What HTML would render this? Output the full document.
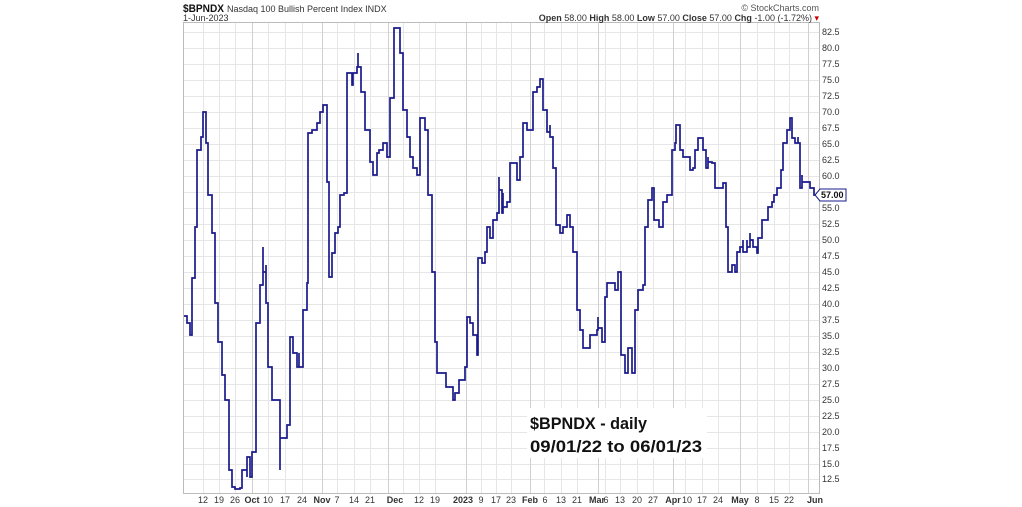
<!DOCTYPE html>
<html><head><meta charset="utf-8"><style>
html,body{margin:0;padding:0;background:#fff;}
svg{display:block;font-family:"Liberation Sans",Arial,sans-serif;}
</style></head><body>
<svg width="1022" height="507" viewBox="0 0 1022 507" xmlns="http://www.w3.org/2000/svg">
<rect width="1022" height="507" fill="#fff"/>
<g stroke="#e6e6e6" stroke-width="1">
<line x1="183" x2="819" y1="32.5" y2="32.5"/><line x1="183" x2="819" y1="48.5" y2="48.5"/><line x1="183" x2="819" y1="64.5" y2="64.5"/><line x1="183" x2="819" y1="80.5" y2="80.5"/><line x1="183" x2="819" y1="96.5" y2="96.5"/><line x1="183" x2="819" y1="112.5" y2="112.5"/><line x1="183" x2="819" y1="128.5" y2="128.5"/><line x1="183" x2="819" y1="144.5" y2="144.5"/><line x1="183" x2="819" y1="160.5" y2="160.5"/><line x1="183" x2="819" y1="176.5" y2="176.5"/><line x1="183" x2="819" y1="192.5" y2="192.5"/><line x1="183" x2="819" y1="208.5" y2="208.5"/><line x1="183" x2="819" y1="224.5" y2="224.5"/><line x1="183" x2="819" y1="240.5" y2="240.5"/><line x1="183" x2="819" y1="256.5" y2="256.5"/><line x1="183" x2="819" y1="272.5" y2="272.5"/><line x1="183" x2="819" y1="288.5" y2="288.5"/><line x1="183" x2="819" y1="304.5" y2="304.5"/><line x1="183" x2="819" y1="320.5" y2="320.5"/><line x1="183" x2="819" y1="336.5" y2="336.5"/><line x1="183" x2="819" y1="352.5" y2="352.5"/><line x1="183" x2="819" y1="368.5" y2="368.5"/><line x1="183" x2="819" y1="384.5" y2="384.5"/><line x1="183" x2="819" y1="400.5" y2="400.5"/><line x1="183" x2="819" y1="416.5" y2="416.5"/><line x1="183" x2="819" y1="432.5" y2="432.5"/><line x1="183" x2="819" y1="448.5" y2="448.5"/><line x1="183" x2="819" y1="464.5" y2="464.5"/><line x1="183" x2="819" y1="479.5" y2="479.5"/>
<line y1="23" y2="493" x1="203.5" x2="203.5"/><line y1="23" y2="493" x1="219.5" x2="219.5"/><line y1="23" y2="493" x1="235.5" x2="235.5"/><line y1="23" y2="493" x1="268.5" x2="268.5"/><line y1="23" y2="493" x1="285.5" x2="285.5"/><line y1="23" y2="493" x1="302.5" x2="302.5"/><line y1="23" y2="493" x1="337.5" x2="337.5"/><line y1="23" y2="493" x1="354.5" x2="354.5"/><line y1="23" y2="493" x1="370.5" x2="370.5"/><line y1="23" y2="493" x1="403.5" x2="403.5"/><line y1="23" y2="493" x1="419.5" x2="419.5"/><line y1="23" y2="493" x1="435.5" x2="435.5"/><line y1="23" y2="493" x1="481.5" x2="481.5"/><line y1="23" y2="493" x1="496.5" x2="496.5"/><line y1="23" y2="493" x1="511.5" x2="511.5"/><line y1="23" y2="493" x1="544.5" x2="544.5"/><line y1="23" y2="493" x1="561.5" x2="561.5"/><line y1="23" y2="493" x1="577.5" x2="577.5"/><line y1="23" y2="493" x1="605.5" x2="605.5"/><line y1="23" y2="493" x1="620.5" x2="620.5"/><line y1="23" y2="493" x1="637.5" x2="637.5"/><line y1="23" y2="493" x1="653.5" x2="653.5"/><line y1="23" y2="493" x1="685.5" x2="685.5"/><line y1="23" y2="493" x1="702.5" x2="702.5"/><line y1="23" y2="493" x1="718.5" x2="718.5"/><line y1="23" y2="493" x1="757.5" x2="757.5"/><line y1="23" y2="493" x1="774.5" x2="774.5"/><line y1="23" y2="493" x1="789.5" x2="789.5"/>
</g>
<g stroke="#d0d0d0" stroke-width="1">
<line y1="23" y2="493" x1="252.5" x2="252.5"/><line y1="23" y2="493" x1="322.5" x2="322.5"/><line y1="23" y2="493" x1="388.5" x2="388.5"/><line y1="23" y2="493" x1="466.5" x2="466.5"/><line y1="23" y2="493" x1="530.5" x2="530.5"/><line y1="23" y2="493" x1="598.5" x2="598.5"/><line y1="23" y2="493" x1="673.5" x2="673.5"/><line y1="23" y2="493" x1="740.5" x2="740.5"/><line y1="23" y2="493" x1="808.5" x2="808.5"/>
</g>
<rect x="183.5" y="22.5" width="636" height="471" fill="none" stroke="#bbb"/>
<path fill="none" stroke="#1a1a8c" stroke-width="1.7" d="M184 316 H187 V318 V323 H190 V335 H192 V278 H195 V227 H197 V182 V150 H201 V137 H203 V112 H206 V143 H208 V150 V195 H212 V202 V233 H215 V253 V303 H218 V342 H222 V375 H225 V400 H229 V425 V470 H232 V477 V487 H235 V489 H240 V488 H242 V482 V470 H245 H247 V477 V457 H250 V477 H252 V452 H256 V380 V323 H260 V285 H263 V247 V272 H266 V265 V303 H268 V310 V367 H272 V393 V400 H277 H280 V470 V438 H283 H287 V425 H290 V348 V337 H293 V353 H297 V367 H299 V353 V367 H303 V328 V310 H307 V292 V283 H308 V175 V133 H312 V130 H317 V123 H320 V112 H323 V105 H327 V117 V182 H329 V240 V277 H332 V253 H335 V233 H338 V227 H340 V195 H344 V193 H347 V111 V73 H352 V85 H353 V73 H357 V67 H358 V53 V67 H361 V92 H365 V125 V130 H370 V137 V162 H373 V168 V175 H377 V163 V153 H379 V150 H383 V143 H387 V157 H390 V98 H394 V78 V28 H400 V53 H403 V60 V110 H407 V125 V137 H410 V157 H413 V168 H417 V175 H420 V118 H425 V125 V130 H428 V150 V195 H432 V215 V272 H435 V342 H437 V368 V373 H442 H446 V375 V387 H450 H453 V392 V400 H455 V393 H457 H459 V380 H465 V367 H467 V337 V317 H470 V323 H473 V335 H477 V355 H478 V297 V258 H482 V263 H485 V258 V252 H487 V227 H490 V238 H493 V220 H497 V213 H499 V177 V190 H502 V195 V213 H503 V193 V207 H507 V202 H510 V163 H515 H517 V180 H520 V167 V157 H523 V123 H527 V130 H533 V92 H537 V87 H540 V79 H543 V92 V110 H547 V125 V132 H550 V125 V137 H553 V168 H556 V188 V225 H560 V227 V233 H563 V227 H567 V220 V215 H570 V227 H573 V252 H577 V272 V310 H580 V317 V330 H583 V348 H587 H590 V335 H593 H597 V330 H598 V317 V328 H602 V335 V342 H605 V330 V297 H607 V283 H615 V290 H618 V272 H621 V278 V355 H625 V362 V373 H628 V362 V348 H632 V362 V373 H635 V362 V310 H638 V303 V290 H643 V285 H645 V272 V227 H648 V220 V200 H652 V188 H654 V193 V220 H659 V227 H663 V213 V202 H667 V195 H670 H672 V188 V150 H675 V143 H676 V125 H680 V150 H683 V157 H687 H690 V170 H693 V168 H695 V157 V150 H698 V138 H703 V150 H706 V157 V168 H708 V157 V162 H712 V163 H715 V188 H718 H723 V183 H726 V202 V227 H728 V247 V272 H732 V265 H735 V272 H737 V252 H740 V247 H743 V240 V252 H747 V240 V247 H750 V233 V240 H753 V247 H757 V253 H758 V238 H762 V220 H765 H768 V213 V207 H772 V202 H774 V195 H777 V188 H781 V170 H783 V163 V143 H787 V137 V130 H790 V118 H792 V130 V138 H795 V143 H798 V137 V143 H800 V150 V188 H802 V175 V182 H805 H810 V188 H814 V195 H818"/>
<rect x="527" y="408" width="180" height="50" fill="#fff"/>
<text x="530" y="429" font-size="17" font-weight="bold" fill="#111" textLength="117" lengthAdjust="spacingAndGlyphs">$BPNDX - daily</text>
<text x="530" y="452" font-size="17" font-weight="bold" fill="#111" textLength="172" lengthAdjust="spacingAndGlyphs">09/01/22 to 06/01/23</text>
<g font-size="9" fill="#333">
<text x="822" y="35">82.5</text><text x="822" y="51">80.0</text><text x="822" y="67">77.5</text><text x="822" y="83">75.0</text><text x="822" y="99">72.5</text><text x="822" y="115">70.0</text><text x="822" y="131">67.5</text><text x="822" y="147">65.0</text><text x="822" y="163">62.5</text><text x="822" y="179">60.0</text><text x="822" y="211">55.0</text><text x="822" y="227">52.5</text><text x="822" y="243">50.0</text><text x="822" y="259">47.5</text><text x="822" y="275">45.0</text><text x="822" y="291">42.5</text><text x="822" y="307">40.0</text><text x="822" y="323">37.5</text><text x="822" y="339">35.0</text><text x="822" y="355">32.5</text><text x="822" y="371">30.0</text><text x="822" y="387">27.5</text><text x="822" y="403">25.0</text><text x="822" y="419">22.5</text><text x="822" y="435">20.0</text><text x="822" y="451">17.5</text><text x="822" y="467">15.0</text><text x="822" y="482">12.5</text>
</g>
<path d="M815 195 L820 189 H846 V201 H820 Z" fill="#fff" stroke="#1a1a8c" stroke-width="1"/>
<text x="821" y="198" font-size="9" font-weight="bold" fill="#111">57.00</text>
<g font-size="9" fill="#333" text-anchor="middle">
<text x="203" y="503">12</text><text x="219" y="503">19</text><text x="235" y="503">26</text><text x="252" y="503" font-weight="bold">Oct</text><text x="268" y="503">10</text><text x="285" y="503">17</text><text x="302" y="503">24</text><text x="322" y="503" font-weight="bold">Nov</text><text x="337" y="503">7</text><text x="354" y="503">14</text><text x="370" y="503">21</text><text x="395" y="503" font-weight="bold">Dec</text><text x="419" y="503">12</text><text x="435" y="503">19</text><text x="463" y="503" font-weight="bold">2023</text><text x="481" y="503">9</text><text x="496" y="503">17</text><text x="511" y="503">23</text><text x="530" y="503" font-weight="bold">Feb</text><text x="545" y="503">6</text><text x="561" y="503">13</text><text x="577" y="503">21</text><text x="597" y="503" font-weight="bold">Mar</text><text x="606" y="503">6</text><text x="620" y="503">13</text><text x="637" y="503">20</text><text x="653" y="503">27</text><text x="673" y="503" font-weight="bold">Apr</text><text x="687" y="503">10</text><text x="702" y="503">17</text><text x="718" y="503">24</text><text x="740" y="503" font-weight="bold">May</text><text x="757" y="503">8</text><text x="774" y="503">15</text><text x="789" y="503">22</text><text x="815" y="503" font-weight="bold">Jun</text>
</g>
<text x="183" y="12" font-size="11" font-weight="bold" fill="#111" textLength="41" lengthAdjust="spacingAndGlyphs">$BPNDX</text>
<text x="227" y="12" font-size="9" fill="#333">Nasdaq 100 Bullish Percent Index  INDX</text>
<text x="183" y="21" font-size="9" fill="#333">1-Jun-2023</text>
<text x="819" y="11" font-size="9" fill="#555" text-anchor="end">© StockCharts.com</text>
<text x="819" y="21" font-size="9" fill="#333" text-anchor="end"><tspan font-weight="bold">Open</tspan> 58.00  <tspan font-weight="bold">High</tspan> 58.00  <tspan font-weight="bold">Low</tspan> 57.00  <tspan font-weight="bold">Close</tspan> 57.00  <tspan font-weight="bold">Chg</tspan> -1.00 (-1.72%) <tspan fill="#c00">▾</tspan></text>
</svg>
</body></html>
